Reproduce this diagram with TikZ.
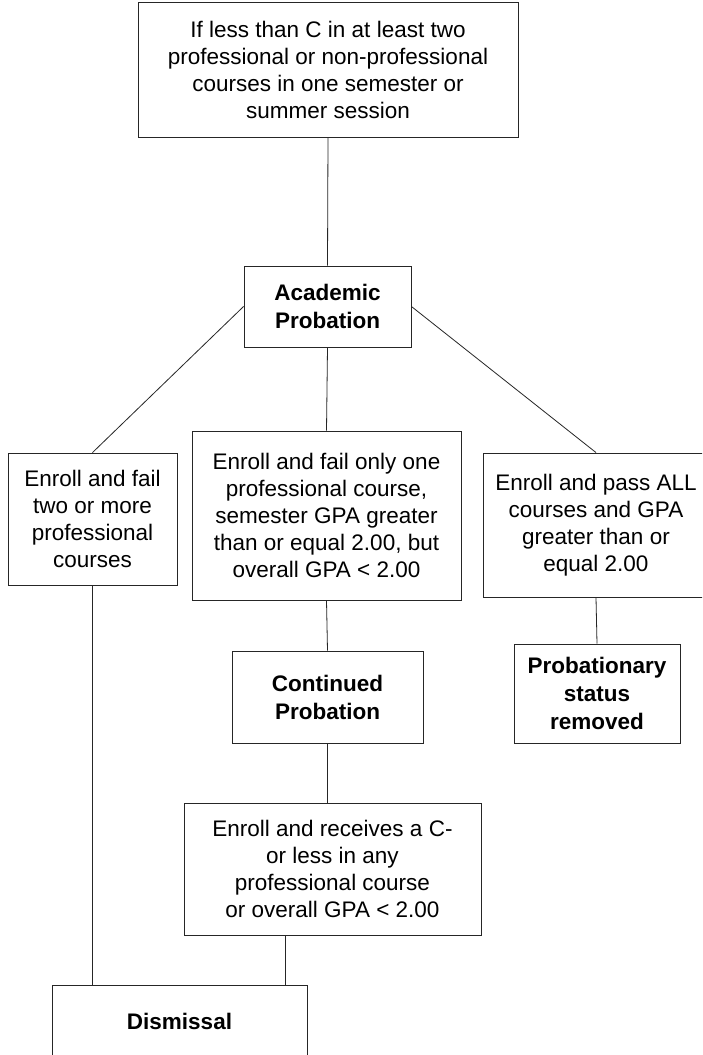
\documentclass[tikz,border=0pt]{standalone}
\usepackage{fontspec}
\setmainfont{Liberation Sans}
\usetikzlibrary{calc}
\tikzset{
  box/.style={draw=black!85, line width=0.9pt, fill=white, inner sep=0pt, align=center,
    font=\fontsize{22.5}{27}\selectfont},
  boldbox/.style={box, font=\fontsize{22.5}{28}\selectfont\bfseries},
  link/.style={draw=black!85, line width=0.8pt}
}
\begin{document}
\begin{tikzpicture}[x=1pt,y=-1pt]
\clip (0,0) rectangle (702,1055);
\fill[white] (0,0) rectangle (702,1055);
\node[box, minimum width=380pt, minimum height=135pt] (top) at (328,69.5)
  {If less than C in at least two\\professional or non-professional\\courses in one semester or\\summer session};
\node[boldbox, minimum width=167pt, minimum height=81pt] (acad) at (327.5,306.5)
  {Academic\\Probation};
\node[box, minimum width=169pt, minimum height=132pt] (left) at (92.5,519)
  {Enroll and fail\\two or more\\professional\\courses};
\node[box, minimum width=269pt, minimum height=169pt] (mid) at (326.5,515.5)
  {Enroll and fail only one\\professional course,\\semester GPA greater\\than or equal 2.00, but\\overall GPA < 2.00};
\node[box, minimum width=226pt, minimum height=144pt] (right) at (596,525)
  {Enroll and pass ALL\\courses and GPA\\greater than or\\equal 2.00};
\node[boldbox, minimum width=191pt, minimum height=92pt] (cont) at (327.5,697)
  {Continued\\Probation};
\node[boldbox, minimum width=166pt, minimum height=99pt] (rem) at (597,693.5)
  {Probationary\\status\\removed};
\node[box, minimum width=297pt, minimum height=132pt] (bm) at (332.5,869)
  {Enroll and receives a C-\\or less in any\\professional course\\or overall GPA < 2.00};
\node[boldbox, minimum width=255pt, minimum height=72pt] (dis) at (179.5,1021.5)
  {Dismissal};
\coordinate (bmout) at ($(bm.south west)!0.341!(bm.south east)$);
\draw[link] (top.south) -- (acad.north);
\draw[link] (acad.west) -- (left.north);
\draw[link] (acad.south) -- (mid.north);
\draw[link] (acad.east) -- (right.north);
\draw[link] (mid.south) -- (cont.north);
\draw[link] (right.south) -- (rem.north);
\draw[link] (cont.south) -- (cont.south |- bm.north);
\draw[link] (left.south) -- (left.south |- dis.north);
\draw[link] (bmout) -- (bmout |- dis.north);
\end{tikzpicture}
\end{document}
